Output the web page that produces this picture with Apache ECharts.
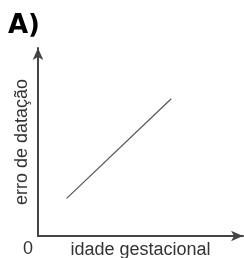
<!DOCTYPE html>
<html>
<head>
<meta charset="utf-8">
<script src="https://cdn.jsdelivr.net/npm/echarts@6/dist/echarts.min.js"></script>
<style>
  html, body { margin: 0; padding: 0; background: #fff; }
  #chart { width: 244px; height: 258px; }
</style>
</head>
<body>
<div id="chart"></div>
<script>
// linha: idade gestacional x erro de datação (escala arbitrária 0-100)
const xValues = [14, 65]
const yValues = [20, 73]
const xName = 'idade gestacional'
const yName = 'erro de datação'
const originLabel = '0'
const panelLabel = 'A)'

const chart = echarts.init(document.getElementById('chart'))

chart.setOption({
  animation: false,
  title: {
    text: panelLabel,
    left: 3,
    top: 8,
    textStyle: { fontFamily: 'DejaVu Sans', fontWeight: 'bold', fontSize: 26, color: '#000' }
  },
  grid: { left: 38, top: 48, width: 205, height: 188, outerBoundsMode: 'none', containLabel: false },
  xAxis: {
    type: 'value',
    min: 0,
    max: 100,
    name: xName,
    nameLocation: 'middle',
    nameGap: 5,
    nameTextStyle: { fontFamily: 'Liberation Sans', fontSize: 18, color: '#333', verticalAlign: 'top' },
    axisLine: { lineStyle: { color: '#444', width: 2 }, symbol: ['none', 'arrow'], symbolSize: [8, 12] },
    axisTick: { show: false },
    axisLabel: { show: false },
    splitLine: { show: false }
  },
  yAxis: {
    type: 'value',
    min: 0,
    max: 100,
    name: yName,
    nameLocation: 'middle',
    nameGap: 7,
    nameTextStyle: { fontFamily: 'Liberation Sans', fontSize: 18, color: '#333' },
    axisLine: { lineStyle: { color: '#444', width: 2 }, symbol: ['none', 'arrow'], symbolSize: [8, 12] },
    axisTick: { show: false },
    axisLabel: { show: false },
    splitLine: { show: false }
  },
  graphic: [{
    type: 'text',
    left: 23,
    top: 240,
    style: { text: originLabel, fontFamily: 'Liberation Sans', fontSize: 18, fill: '#333' }
  }],
  series: [{
    type: 'line',
    data: xValues.map((x, i) => [x, yValues[i]]),
    symbol: 'none',
    lineStyle: { color: '#555', width: 1.2 }
  }]
})
</script>
</body>
</html>
